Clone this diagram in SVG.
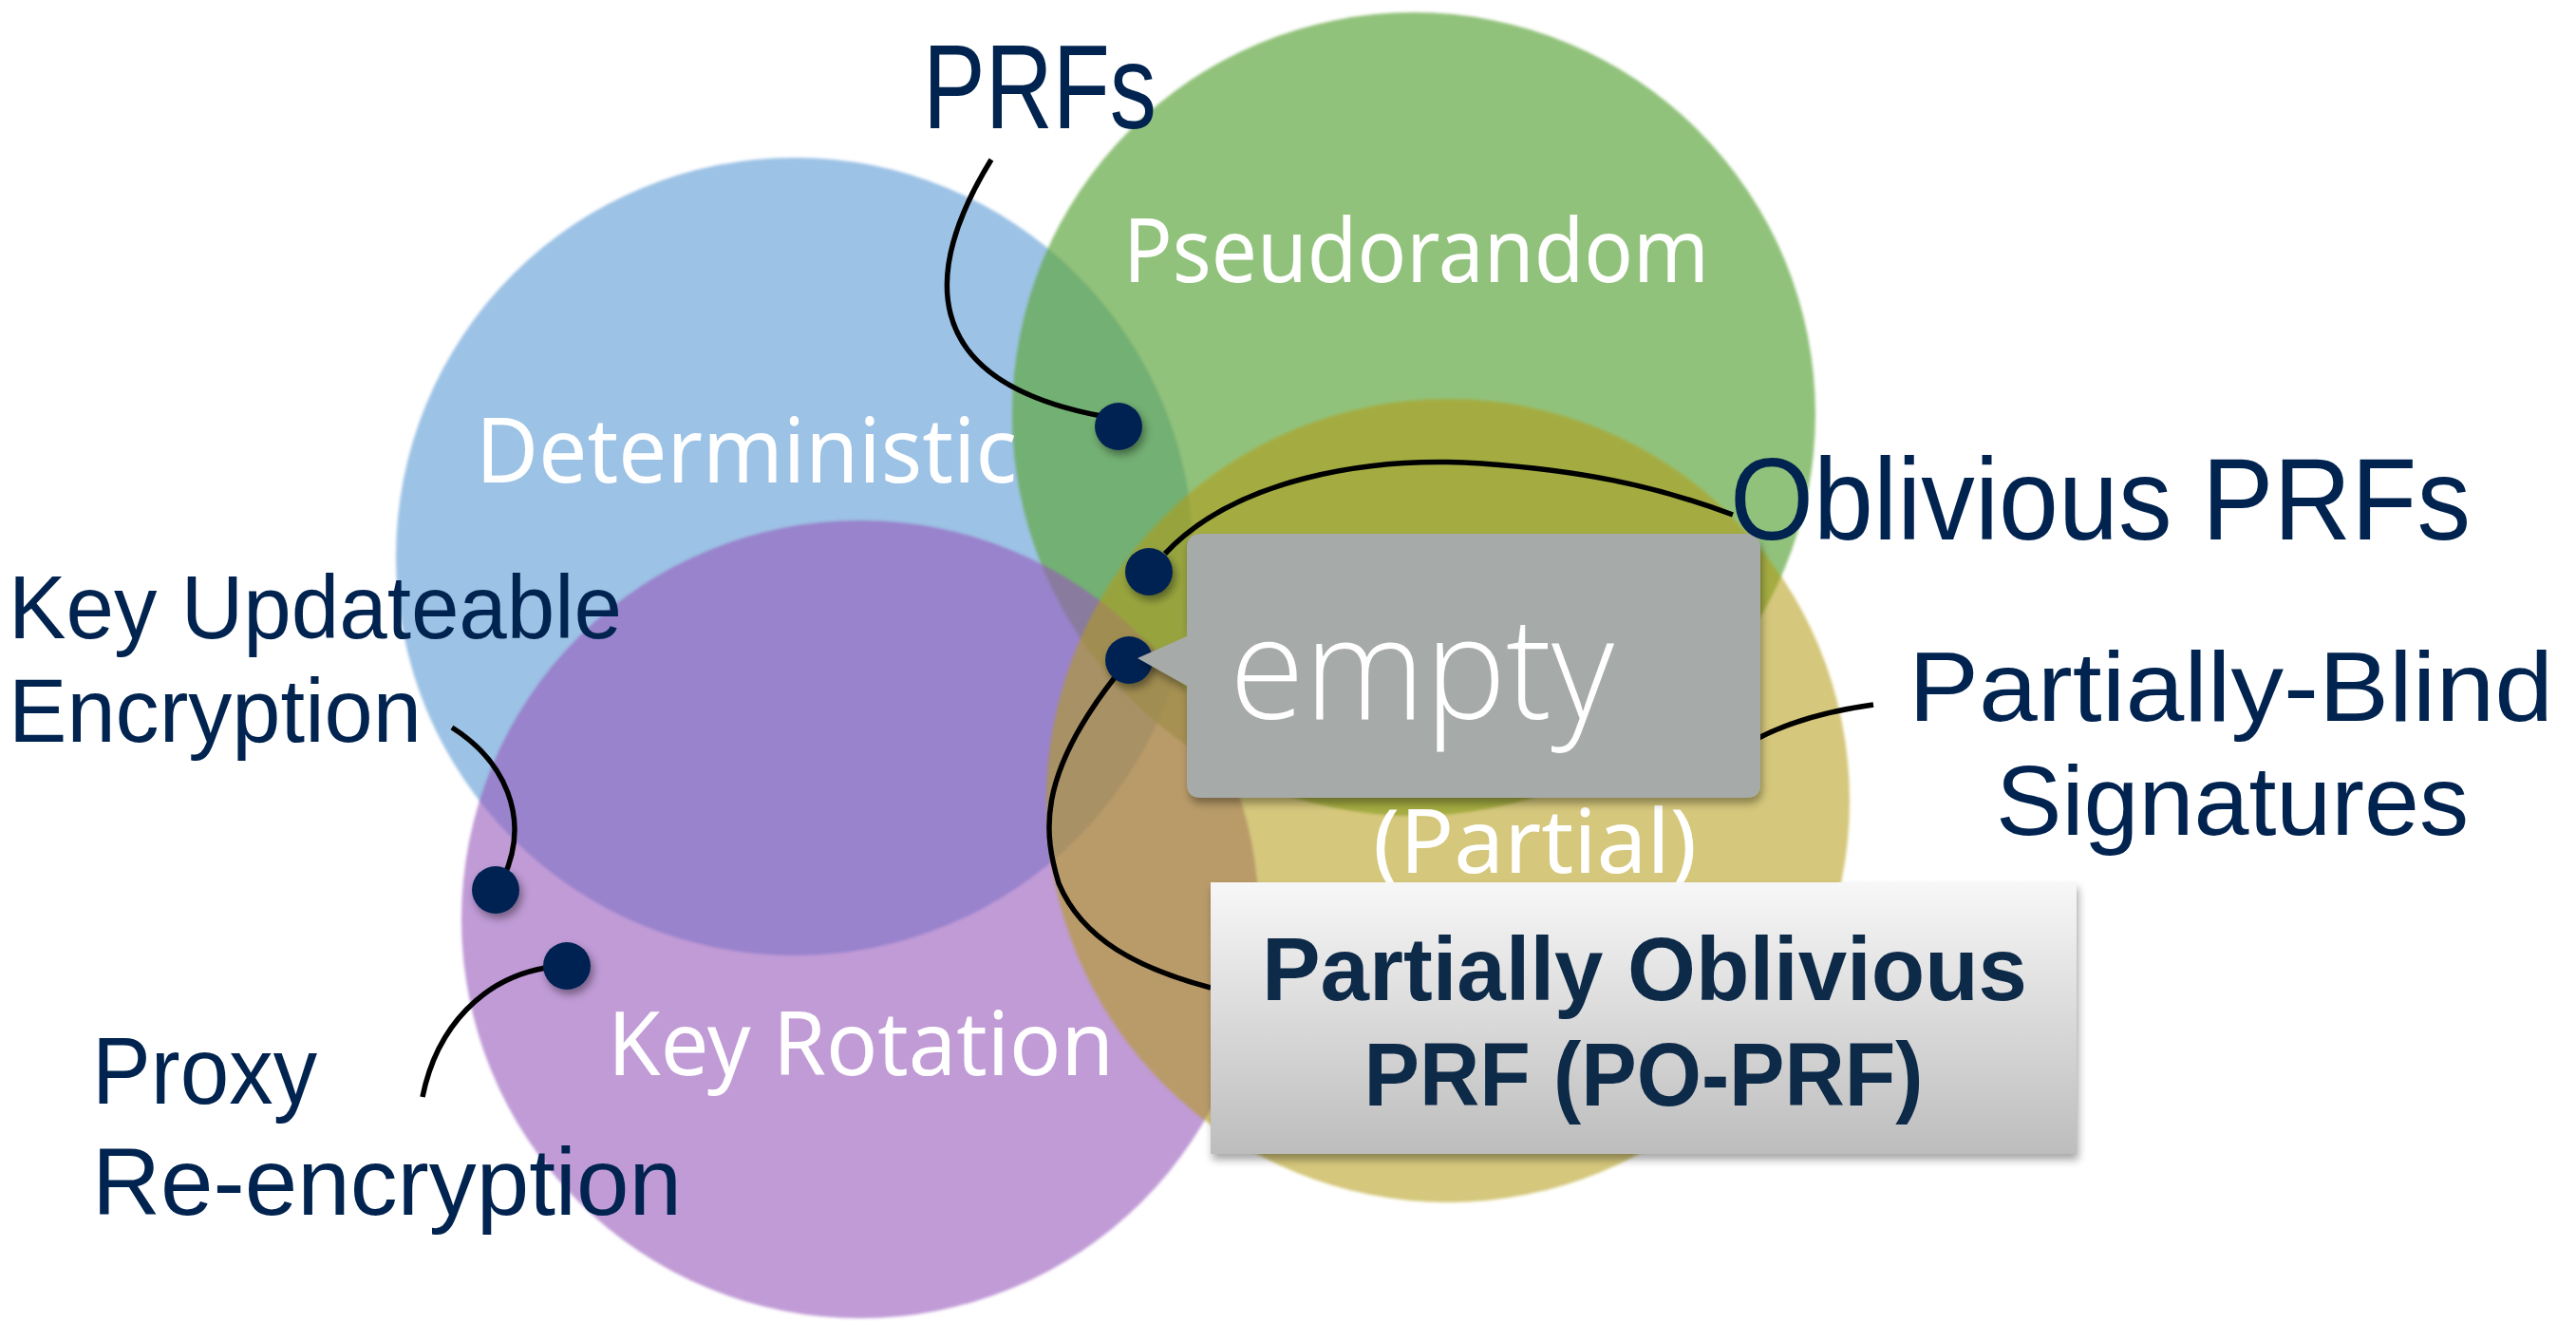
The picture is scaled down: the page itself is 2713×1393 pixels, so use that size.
<svg xmlns="http://www.w3.org/2000/svg" width="2713" height="1393" viewBox="0 0 2713 1393">
  <style>
    .lbl { font-family: "Liberation Sans", Arial, sans-serif; fill: #00234f; }
    .inner { font-family: "Noto Sans", "DejaVu Sans", sans-serif; fill: #ffffff; }
    .po { font-family: "Liberation Sans", Arial, sans-serif; font-weight: bold; fill: #0d2a48; }
    .empty { font-family: "Open Sans", "Lato", sans-serif; font-weight: 300; fill: #ffffff; }
    .wire { fill: none; stroke: #000000; stroke-width: 5.5; stroke-linecap: butt; }
    .dot { fill: #012452; filter: url(#shadow); }
  </style>
  <defs>
    <filter id="soft" x="-5%" y="-5%" width="110%" height="110%">
      <feGaussianBlur stdDeviation="1.5"/>
    </filter>
    <filter id="shadow" x="-30%" y="-30%" width="160%" height="160%">
      <feDropShadow dx="3" dy="5" stdDeviation="4" flood-color="#000000" flood-opacity="0.4"/>
    </filter>
    <filter id="boxshadow" x="-5%" y="-10%" width="110%" height="125%">
      <feDropShadow dx="2" dy="6" stdDeviation="4" flood-color="#000000" flood-opacity="0.35"/>
    </filter>
    <linearGradient id="poGrad" x1="0" y1="0" x2="0" y2="1">
      <stop offset="0" stop-color="#f7f7f7"/>
      <stop offset="1" stop-color="#bdbdbd"/>
    </linearGradient>
  </defs>

  <rect width="2713" height="1393" fill="#ffffff"/>

  <!-- Sets -->
  <g id="set-deterministic" filter="url(#soft)">
    <circle cx="837" cy="586" r="420" fill="#9cc2e5"/>
  </g>
  <g id="set-pseudorandom" filter="url(#soft)">
    <circle cx="1489" cy="436" r="423" fill="#63a841" fill-opacity="0.7"/>
  </g>
  <g id="set-key-rotation" filter="url(#soft)">
    <circle cx="906" cy="968" r="420" fill="#9658bb" fill-opacity="0.6"/>
  </g>
  <g id="set-partial" filter="url(#soft)">
    <circle cx="1525" cy="843" r="423" fill="#b49b17" fill-opacity="0.56"/>
  </g>

  <!-- Set names -->
  <g id="set-labels">
    <text class="inner" x="1183" y="297" font-size="94" textLength="617" lengthAdjust="spacingAndGlyphs">Pseudorandom</text>
    <text class="inner" x="501" y="508" font-size="95" textLength="570" lengthAdjust="spacingAndGlyphs">Deterministic</text>
    <text class="inner" x="640" y="1132" font-size="94" textLength="533" lengthAdjust="spacingAndGlyphs">Key Rotation</text>
    <text class="inner" x="1446" y="919" font-size="94" textLength="341" lengthAdjust="spacingAndGlyphs">(Partial)</text>
  </g>

  <!-- Leader lines -->
  <g id="connectors">
    <path class="wire" d="M1044,168 C975,280 960,400 1160,438"/>
    <path class="wire" d="M1227,583 C1300,505 1440,480 1560,488 C1660,495 1740,510 1825,542"/>
    <path class="wire" d="M1175,712 C1090,820 1100,880 1115,930 C1140,990 1200,1020 1275,1040"/>
    <path class="wire" d="M1850,778 Q1900,752 1973,742"/>
    <path class="wire" d="M476,766 C530,800 560,860 530,925"/>
    <path class="wire" d="M575,1019 C510,1030 460,1080 445,1155"/>
  </g>

  <!-- Points -->
  <g id="point-prf"><circle class="dot" cx="1178" cy="449" r="25"/></g>
  <g id="point-oprf"><circle class="dot" cx="1210" cy="602" r="25"/></g>
  <g id="point-empty"><circle class="dot" cx="1189" cy="695" r="25"/></g>
  <g id="point-kue"><circle class="dot" cx="522" cy="937" r="25"/></g>
  <g id="point-pre"><circle class="dot" cx="597" cy="1017" r="25"/></g>

  <!-- "empty" callout -->
  <g id="callout-empty">
    <path d="M1265,562 H1839 Q1854,562 1854,577 V825 Q1854,840 1839,840 H1265 Q1250,840 1250,825 V722 L1198,693 L1250,670 V577 Q1250,562 1265,562 Z" fill="#a6aaa8" filter="url(#boxshadow)"/>
    <text class="empty" x="1295" y="757" font-size="150" textLength="405" lengthAdjust="spacingAndGlyphs">empty</text>
  </g>

  <!-- PO-PRF box -->
  <g id="po-prf">
    <rect x="1275" y="929" width="912" height="286" fill="url(#poGrad)" filter="url(#boxshadow)"/>
    <text class="po" x="1732" y="1053" font-size="95" text-anchor="middle" textLength="806" lengthAdjust="spacingAndGlyphs">Partially Oblivious</text>
    <text class="po" x="1731" y="1164" font-size="95" text-anchor="middle" textLength="589" lengthAdjust="spacingAndGlyphs">PRF (PO-PRF)</text>
  </g>

  <!-- Outer labels -->
  <g id="label-prfs">
    <text class="lbl" x="972" y="135" font-size="126" textLength="246" lengthAdjust="spacingAndGlyphs">PRFs</text>
  </g>
  <g id="label-oprfs">
    <text class="lbl" x="1822" y="568" font-size="123" textLength="780" lengthAdjust="spacingAndGlyphs">Oblivious PRFs</text>
  </g>
  <g id="label-pbs">
    <text class="lbl" x="2010" y="759" font-size="104" textLength="679" lengthAdjust="spacingAndGlyphs">Partially-Blind</text>
    <text class="lbl" x="2102" y="879" font-size="104" textLength="498" lengthAdjust="spacingAndGlyphs">Signatures</text>
  </g>
  <g id="label-kue">
    <text class="lbl" x="9" y="672" font-size="94" textLength="646" lengthAdjust="spacingAndGlyphs">Key Updateable</text>
    <text class="lbl" x="9" y="781" font-size="94" textLength="435" lengthAdjust="spacingAndGlyphs">Encryption</text>
  </g>
  <g id="label-pre">
    <text class="lbl" x="97" y="1162" font-size="100" textLength="237" lengthAdjust="spacingAndGlyphs">Proxy</text>
    <text class="lbl" x="97" y="1279" font-size="100" textLength="621" lengthAdjust="spacingAndGlyphs">Re-encryption</text>
  </g>
</svg>
